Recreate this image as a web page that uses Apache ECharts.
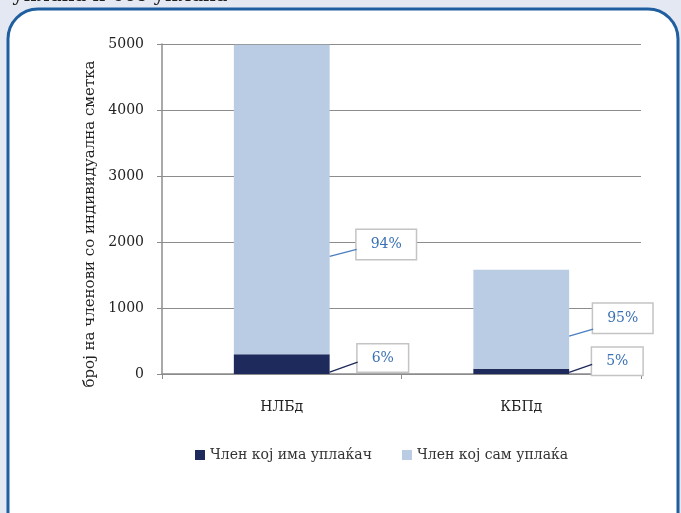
<!DOCTYPE html>
<html>
<head>
<meta charset="utf-8">
<script src="https://cdn.jsdelivr.net/npm/echarts@6/dist/echarts.min.js"></script>
<style>
html,body{margin:0;padding:0;background:#e4e8f2;}
#c{width:681px;height:513px;}
</style>
</head>
<body>
<div id="c"></div>
<script>
var categories = ['НЛБд', 'КБПд'];
var seriesNames = ['Член кој има уплаќач', 'Член кој сам уплаќа'];
var darkValues = [300, 80];
var lightValues = [4690, 1500];
var darkPct = ['6%', '5%'];
var lightPct = ['94%', '95%'];
var yTicks = { min: 0, max: 5000, interval: 1000 };
var yAxisName = 'број на членови со индивидуална сметка';
var topText = 'уплака и без уплака';

var FONT = 'DejaVu Serif';
var DARK = '#1f2a5c', LIGHT = '#b9cce4';
var chart = echarts.init(document.getElementById('c'), null, { renderer: 'canvas' });

// label offsets [dx, dy] relative to default 'right' position,
// leader-line vertical offsets [start, end] relative to label centre
var darkOffsets = [[28, -6], [23, -10]];
var lightOffsets = [[27, 45], [24, -1]];
var darkLine = [[14, 4], [11, 3]];
var lightLine = [[12, 5], [18, 11]];
var BAR_RATIO = 0.4;

function labelStyle(texts, padV) {
  return {
    show: true,
    position: 'right',
    distance: 0,
    formatter: function (p) { return texts[p.dataIndex]; },
    color: '#3a70b5',
    fontFamily: FONT,
    fontSize: 14,
    backgroundColor: '#ffffff',
    borderColor: '#c4c4c4',
    borderWidth: 1.5,
    padding: [padV, 14, padV - 1, 14]
  };
}

function makeLayout(offsets) {
  return function (p) {
    var o = offsets[p.dataIndex];
    return { dx: o[0], dy: o[1] };
  };
}

var baseGraphic = [
  {
    id: 'frame', type: 'rect', z: -10, silent: true,
    shape: { x: 8, y: 9, width: 670, height: 540, r: 30 },
    style: { fill: '#ffffff', stroke: '#1f5fa0', lineWidth: 3 }
  },
  {
    id: 'toptext', type: 'text', z: -5, silent: true, left: 12, top: -14,
    style: { text: topText, font: '20px "' + FONT + '"', fill: '#222' }
  }
];

chart.setOption({
  backgroundColor: 'transparent',
  animation: false,
  graphic: baseGraphic,
  grid: { left: 162, right: 40, top: 44, bottom: 139, containLabel: false },
  legend: {
    left: 190, top: 443,
    itemWidth: 10, itemHeight: 10, itemGap: 30, icon: 'rect',
    textStyle: { fontFamily: FONT, fontSize: 14, color: '#333' },
    data: seriesNames
  },
  xAxis: {
    type: 'category',
    data: categories,
    axisLine: { lineStyle: { color: '#8c8c8c', width: 1.5 } },
    axisTick: { show: true, length: 5, lineStyle: { color: '#8c8c8c' } },
    axisLabel: { margin: 26, fontFamily: FONT, fontSize: 14, color: '#222' }
  },
  yAxis: {
    type: 'value',
    min: yTicks.min, max: yTicks.max, interval: yTicks.interval,
    name: yAxisName,
    nameLocation: 'middle',
    nameGap: 60,
    nameRotate: 90,
    nameTextStyle: { fontFamily: FONT, fontSize: 15, color: '#222', padding: [0, 30, 0, 0] },
    axisLine: { show: true, lineStyle: { color: '#8c8c8c', width: 1.5 } },
    axisTick: { show: true, length: 5, lineStyle: { color: '#8c8c8c' } },
    splitLine: { lineStyle: { color: '#8c8c8c', width: 1 } },
    axisLabel: { margin: 18, fontFamily: FONT, fontSize: 14, color: '#222',
      formatter: function (v) { return String(v); } }
  },
  series: [
    {
      name: seriesNames[0], type: 'bar', stack: 'a', barWidth: (BAR_RATIO * 100) + '%',
      data: darkValues,
      itemStyle: { color: DARK },
      label: labelStyle(darkPct, 7),
      labelLayout: makeLayout(darkOffsets)
    },
    {
      name: seriesNames[1], type: 'bar', stack: 'a', barWidth: (BAR_RATIO * 100) + '%',
      data: lightValues,
      itemStyle: { color: LIGHT },
      label: labelStyle(lightPct, 8),
      labelLayout: makeLayout(lightOffsets)
    }
  ]
});

// leader lines computed from the chart's own scales
var lines = [];
var band = chart.convertToPixel({ xAxisIndex: 0 }, categories[1]) - chart.convertToPixel({ xAxisIndex: 0 }, categories[0]);
categories.forEach(function (cat, i) {
  var cx = chart.convertToPixel({ xAxisIndex: 0 }, cat);
  var right = cx + band * BAR_RATIO / 2;
  var y0 = chart.convertToPixel({ yAxisIndex: 0 }, 0);
  var y1 = chart.convertToPixel({ yAxisIndex: 0 }, darkValues[i]);
  var y2 = chart.convertToPixel({ yAxisIndex: 0 }, darkValues[i] + lightValues[i]);
  var segs = [
    { mid: (y0 + y1) / 2, off: darkOffsets[i], ln: darkLine[i], color: DARK },
    { mid: (y1 + y2) / 2, off: lightOffsets[i], ln: lightLine[i], color: '#4a7fc0' }
  ];
  segs.forEach(function (s, k) {
    var cy = s.mid + s.off[1];
    lines.push({
      id: 'leader' + i + '_' + k, type: 'line', silent: true, z: 50,
      shape: { x1: right, y1: cy + s.ln[0], x2: right + s.off[0], y2: cy + s.ln[1] },
      style: { stroke: s.color, lineWidth: 1.3 }
    });
  });
});
chart.setOption({ graphic: baseGraphic.concat(lines) });
</script>
</body>
</html>
